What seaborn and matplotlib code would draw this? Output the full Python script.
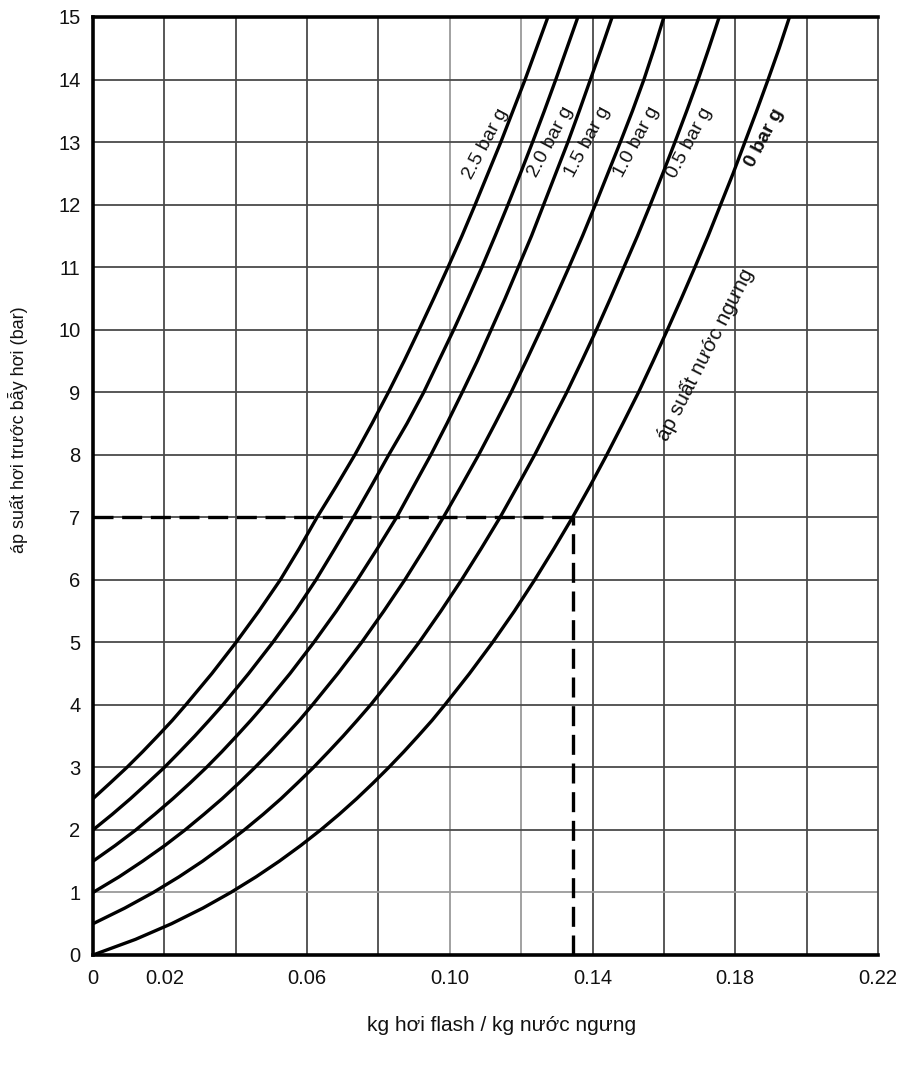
import numpy as np
import pandas as pd
import matplotlib
matplotlib.use("Agg")
import matplotlib.pyplot as plt
import seaborn as sns

# ---------------- data ----------------
# steam pressure before trap (bar g) at which flash fractions were read
p_grid = [0, 0.25, 0.5, 0.75, 1, 1.25, 1.5, 1.75, 2, 2.25, 2.5, 2.75, 3, 3.25, 3.5, 3.75, 4,
          4.5, 5, 5.5, 6, 6.5, 7, 7.5, 8, 8.5, 9, 9.5, 10, 10.5, 11, 11.5, 12, 12.5, 13,
          13.5, 14, 14.5, 15]

# kg flash steam / kg condensate for each condensate pressure curve
x_0 = [0, 0.0119, 0.0220, 0.0308, 0.0386, 0.0457, 0.0522, 0.0582, 0.0638, 0.0690, 0.0739,
       0.0785, 0.0829, 0.0871, 0.0911, 0.0950, 0.0986, 0.1055, 0.1120, 0.1181, 0.1238,
       0.1292, 0.1344, 0.1393, 0.1440, 0.1485, 0.1529, 0.1570, 0.1610, 0.1649, 0.1687,
       0.1724, 0.1759, 0.1794, 0.1827, 0.1860, 0.1892, 0.1923, 0.1952]
x_05 = [0, 0.0089, 0.0169, 0.0241, 0.0307, 0.0367, 0.0424, 0.0477, 0.0527, 0.0573, 0.0618,
        0.0660, 0.0701, 0.0740, 0.0778, 0.0848, 0.0914, 0.0975, 0.1033, 0.1088, 0.1141,
        0.1190, 0.1238, 0.1283, 0.1328, 0.1370, 0.1411, 0.1450, 0.1488, 0.1526, 0.1562,
        0.1597, 0.1631, 0.1664, 0.1696, 0.1726, 0.1755]
x_10 = [0, 0.0073, 0.0139, 0.0201, 0.0258, 0.0311, 0.0362, 0.0409, 0.0454, 0.0497, 0.0538,
        0.0578, 0.0615, 0.0686, 0.0753, 0.0815, 0.0874, 0.0929, 0.0982, 0.1032, 0.1081,
        0.1127, 0.1172, 0.1214, 0.1255, 0.1295, 0.1334, 0.1372, 0.1408, 0.1443, 0.1478,
        0.1512, 0.1544, 0.1573, 0.1600]
x_15 = [0, 0.0062, 0.0120, 0.0173, 0.0224, 0.0272, 0.0318, 0.0361, 0.0402, 0.0442, 0.0480,
        0.0552, 0.0619, 0.0682, 0.0741, 0.0797, 0.0851, 0.0899, 0.0947, 0.0992, 0.1035,
        0.1077, 0.1116, 0.1155, 0.1192, 0.1229, 0.1263, 0.1297, 0.1331, 0.1363, 0.1394,
        0.1425, 0.1455]
x_20 = [0, 0.0054, 0.0105, 0.0153, 0.0200, 0.0243, 0.0285, 0.0325, 0.0364, 0.0436, 0.0504,
        0.0567, 0.0625, 0.0678, 0.0730, 0.0780, 0.0829, 0.0880, 0.0927, 0.0969, 0.1011,
        0.1051, 0.1090, 0.1127, 0.1163, 0.1198, 0.1232, 0.1265, 0.1297, 0.1328, 0.1359]
x_25 = [0, 0.0048, 0.0095, 0.0139, 0.0181, 0.0222, 0.0260, 0.0333, 0.0401, 0.0465, 0.0525,
        0.0578, 0.0628, 0.0682, 0.0734, 0.0782, 0.0828, 0.0872, 0.0914, 0.0955, 0.0995,
        0.1034, 0.1071, 0.1107, 0.1143, 0.1177, 0.1211, 0.1243, 0.1275]

curve_names = ["0 bar g", "0.5 bar g", "1.0 bar g", "1.5 bar g", "2.0 bar g", "2.5 bar g"]
curve_x = [x_0, x_05, x_10, x_15, x_20, x_25]

# worked example (dashed lines)
example_pressure = 7
example_flash = 0.1345

x_ticks = [0, 0.02, 0.04, 0.06, 0.08, 0.10, 0.12, 0.14, 0.16, 0.18, 0.20, 0.22]
x_tick_labels = ["0", "0.02", "", "0.06", "", "0.10", "", "0.14", "", "0.18", "", "0.22"]
y_ticks = list(range(0, 16))
y_tick_labels = [str(v) for v in y_ticks]

x_label = "kg hơi flash / kg nước ngưng"
y_label = "áp suất hơi trước bẫy hơi (bar)"
condensate_label = "áp suất nước ngưng"

# ---------------- build table ----------------
rows = []
for name, xs in zip(curve_names, curve_x):
    ps = p_grid[len(p_grid) - len(xs):]
    for p, x in zip(ps, xs):
        rows.append({"curve": name, "pressure": p, "flash": x})
df = pd.DataFrame(rows)

# ---------------- figure ----------------
sns.set_theme(style="white")
plt.rcParams["font.family"] = ["Liberation Sans", "DejaVu Sans"]

fig = plt.figure(figsize=(9, 10.67), dpi=100)
ax = fig.add_axes([93 / 900, 1 - 955 / 1067, (878 - 93) / 900, (955 - 17) / 1067])

# grid
light_x = [0.10, 0.12]
light_y = [1]
for xv in x_ticks[1:-1]:
    ax.axvline(xv, color="#9a9a9a" if any(abs(xv - l) < 1e-9 for l in light_x) else "#4a4a4a",
               lw=1.3, zorder=1)
for yv in y_ticks[1:-1]:
    ax.axhline(yv, color="#9a9a9a" if yv in light_y else "#4a4a4a", lw=1.3, zorder=1)

sns.lineplot(data=df, x="flash", y="pressure", hue="curve", units="curve",
             palette=["black"] * len(curve_names), estimator=None, sort=False,
             lw=2.4, legend=False, ax=ax, zorder=3)

# dashed example lines
ax.hlines(example_pressure, 0, example_flash, colors="black", lw=2.4,
          linestyles=(0, (6, 2.6)), zorder=4)
ax.vlines(example_flash, 0, example_pressure, colors="black", lw=2.4,
          linestyles=(0, (6, 2.6)), zorder=4)

ax.set_xlim(0, 0.22)
ax.set_ylim(0, 15)
ax.set_xticks(x_ticks)
ax.set_xticklabels(x_tick_labels, fontsize=14.5)
ax.set_yticks(y_ticks)
ax.set_yticklabels(y_tick_labels, fontsize=14.5)
ax.tick_params(axis="both", which="both", direction="out", length=5, width=1.2,
               color="#333333", pad=4, labelcolor="#111111")
ax.tick_params(axis="x", length=0, pad=10)

for side in ["left", "top", "bottom"]:
    ax.spines[side].set_color("black")
    ax.spines[side].set_linewidth(2.6)
ax.spines["right"].set_color("#4a4a4a")
ax.spines["right"].set_linewidth(1.3)

ax.set_xlabel(x_label, fontsize=15, color="#111111")
ax.xaxis.set_label_coords(0.521, -0.065)
ax.set_ylabel(y_label, fontsize=13, color="#111111")
ax.yaxis.set_label_coords(-0.083, 0.56)

# curve labels
label_pos = {
    "2.5 bar g": (0.1101, 12.97),
    "2.0 bar g": (0.1284, 13.0),
    "1.5 bar g": (0.1387, 13.0),
    "1.0 bar g": (0.1525, 13.0),
    "0.5 bar g": (0.1673, 12.99),
    "0 bar g": (0.1883, 13.07),
}
for name in curve_names:
    lx, ly = label_pos[name]
    ax.text(lx, ly, name, rotation=62, rotation_mode="anchor", ha="center", va="center",
            fontsize=14, fontweight="bold" if name == "0 bar g" else "normal",
            color="#111111", zorder=5)

ax.text(0.1715, 9.6, condensate_label, rotation=63, rotation_mode="anchor",
        ha="center", va="center", fontsize=15, color="#111111", zorder=5)

fig.savefig("out.png", dpi=100)
